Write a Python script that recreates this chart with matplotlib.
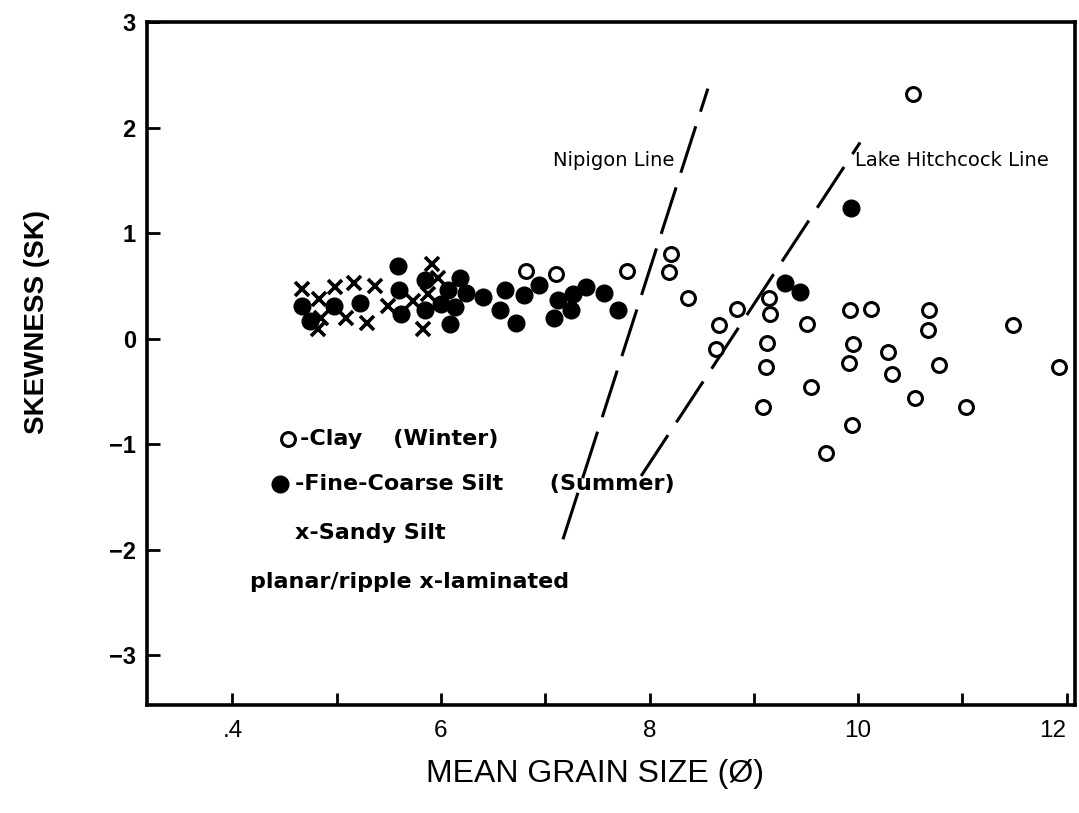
"""Skewness vs mean grain size scatter with Nipigon / Lake Hitchcock lines."""

import matplotlib

matplotlib.use("Agg")

import matplotlib.pyplot as plt


# clay (winter) layers - open circles
CLAY_X = [6.82, 7.10, 7.78, 8.21, 8.19, 8.37, 8.84, 8.67, 8.64, 9.15, 9.16,
          9.13, 9.12, 9.09, 9.51, 9.55, 9.69, 9.92, 10.12, 9.95, 9.91, 9.94,
          10.29, 10.33, 10.55, 10.68, 10.67, 10.78, 11.04, 11.49, 11.93, 10.53]
CLAY_Y = [0.64, 0.61, 0.64, 0.80, 0.63, 0.39, 0.28, 0.13, -0.10, 0.39, 0.23,
          -0.04, -0.27, -0.65, 0.14, -0.46, -1.08, 0.27, 0.28, -0.05, -0.23,
          -0.82, -0.13, -0.33, -0.56, 0.27, 0.08, -0.25, -0.65, 0.13, -0.27, 2.32]

# fine-coarse silt (summer) layers - filled circles
SILT_X = [4.67, 4.74, 4.97, 5.22, 5.59, 5.60, 5.62, 5.85, 5.85, 6.00, 6.07,
          6.18, 6.24, 6.13, 6.09, 6.40, 6.61, 6.57, 6.80, 6.94, 6.72, 7.12,
          7.27, 7.39, 7.25, 7.08, 7.56, 7.70, 9.30, 9.44, 9.93]
SILT_Y = [0.31, 0.17, 0.31, 0.34, 0.69, 0.46, 0.23, 0.56, 0.27, 0.33, 0.46,
          0.58, 0.43, 0.30, 0.14, 0.40, 0.46, 0.27, 0.41, 0.51, 0.15, 0.37,
          0.42, 0.49, 0.27, 0.20, 0.43, 0.27, 0.53, 0.44, 1.24]

# sandy silt - crosses
SAND_X = [4.67, 4.83, 4.98, 5.17, 5.37, 4.85, 4.82, 5.09, 5.29, 5.49, 5.73,
          5.91, 5.97, 5.88, 5.83]
SAND_Y = [0.47, 0.38, 0.49, 0.53, 0.50, 0.20, 0.09, 0.20, 0.15, 0.31, 0.36,
          0.71, 0.58, 0.42, 0.09]

NIPIGON_X = [7.17, 8.56]
NIPIGON_Y = [-1.90, 2.37]
HITCHCOCK_X = [7.92, 10.02]
HITCHCOCK_Y = [-1.30, 1.86]

X_TICKS = [4, 6, 8, 10, 12]
X_TICK_LABELS = [".4", "6", "8", "10", "12"]
X_MINOR = [5, 7, 9, 11]
Y_TICKS = [-3, -2, -1, 0, 1, 2, 3]

FONT = ["Liberation Sans", "DejaVu Sans"]
WIDE = ["DejaVu Sans"]


def main() -> None:
    plt.rcParams["font.family"] = FONT
    fig = plt.figure(figsize=(10.79, 8.13), dpi=100)
    ax = fig.add_axes([0.1362, 0.1328, 0.860, 0.840])

    ax.plot(NIPIGON_X, NIPIGON_Y, color="black", lw=2.2, dashes=(16, 5),
            solid_capstyle="butt")
    ax.plot(HITCHCOCK_X, HITCHCOCK_Y, color="black", lw=2.2, dashes=(16, 5),
            solid_capstyle="butt")

    ax.plot(SAND_X, SAND_Y, ls="none", marker="x", ms=10, mew=2.6, color="black")
    ax.plot(SILT_X, SILT_Y, ls="none", marker="o", ms=12, mfc="black",
            mec="black", mew=1)
    ax.plot(CLAY_X, CLAY_Y, ls="none", marker="o", ms=10, mfc="white",
            mec="black", mew=2.2)

    ax.set_xlim(3.18, 12.08)
    ax.set_ylim(-3.47, 3.0)
    ax.set_xticks(X_TICKS)
    ax.set_xticklabels(X_TICK_LABELS, fontsize=17.5)
    ax.set_xticks(X_MINOR, minor=True)
    ax.set_yticks(Y_TICKS)
    ax.set_yticklabels([f"{v:d}".replace("-", "\u2212") for v in Y_TICKS],
                       fontweight="bold", fontsize=17)
    ax.tick_params(axis="both", which="both", direction="in", length=9,
                   width=2, pad=8)
    ax.tick_params(axis="x", pad=11)
    # keep the "12" inside the figure edge
    ax.get_xticklabels()[-1].set_horizontalalignment("right")
    ax.get_xticklabels()[-1].set_x(12.1)
    for spine in ax.spines.values():
        spine.set_linewidth(2.6)

    ax.set_xlabel("MEAN GRAIN SIZE (\u00d8)", fontsize=23)
    ax.xaxis.set_label_coords(0.483, -0.079)
    ax.set_ylabel("SKEWNESS (SK)", fontsize=20, fontweight="bold")
    ax.yaxis.set_label_coords(-0.105, 0.561)

    ax.text(0.568, 0.797, "Nipigon Line", transform=ax.transAxes,
            ha="right", va="center", fontsize=14, family=WIDE)
    ax.text(0.763, 0.797, "Lake Hitchcock Line", transform=ax.transAxes,
            ha="left", va="center", fontsize=14, family=WIDE)

    # legend drawn as free text, as in the original figure
    ax.plot([0.152], [0.389], transform=ax.transAxes, marker="o", ms=10,
            mfc="white", mec="black", mew=2.2, clip_on=False)
    ax.text(0.165, 0.389, "-Clay    (Winter)", transform=ax.transAxes,
            ha="left", va="center", fontsize=16, fontweight="bold", family=WIDE)
    ax.plot([0.143], [0.323], transform=ax.transAxes, marker="o", ms=12,
            mfc="black", mec="black", clip_on=False)
    ax.text(0.159, 0.323, "-Fine-Coarse Silt      (Summer)",
            transform=ax.transAxes, ha="left", va="center", fontsize=16,
            fontweight="bold", family=WIDE)
    ax.text(0.159, 0.252, "x-Sandy Silt", transform=ax.transAxes,
            ha="left", va="center", fontsize=16, fontweight="bold", family=WIDE)
    ax.text(0.111, 0.180, "planar/ripple x-laminated", transform=ax.transAxes,
            ha="left", va="center", fontsize=16, fontweight="bold", family=WIDE)

    fig.savefig("out.png", dpi=100, facecolor="white")
    plt.close(fig)


if __name__ == "__main__":
    main()
